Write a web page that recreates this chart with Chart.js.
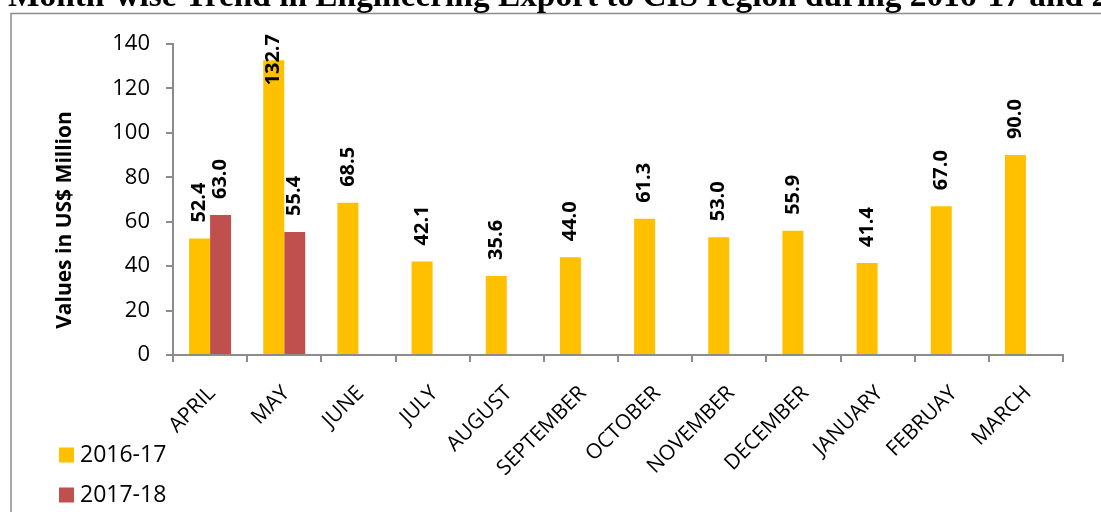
<!DOCTYPE html>
<html>
<head>
<meta charset="utf-8">
<script src="https://cdn.jsdelivr.net/npm/chart.js@4.4.1/dist/chart.umd.min.js"></script>
<style>
html,body{margin:0;padding:0;background:#fff;overflow:hidden;}
canvas{display:block;}
</style>
</head>
<body>
<canvas id="c" width="1101" height="512"></canvas>
<script>
const titleText = "Month-wise Trend in Engineering Export to CIS region during 2016-17 and 2017-18";
const yAxisTitle = "Values in US$ Million";
const months = ["APRIL","MAY","JUNE","JULY","AUGUST","SEPTEMBER","OCTOBER","NOVEMBER","DECEMBER","JANUARY","FEBRUAY","MARCH"];
const series1Name = "2016-17";
const series2Name = "2017-18";
const series1 = [52.4,132.7,68.5,42.1,35.6,44.0,61.3,53.0,55.9,41.4,67.0,90.0];
const series2 = [63.0,55.4,null,null,null,null,null,null,null,null,null,null];
const yMin = 0, yMax = 140, yStep = 20;

const decorPlugin = {
  id: 'decor',
  beforeDraw(chart) {
    const ctx = chart.ctx;
    ctx.save();
    ctx.fillStyle = '#fff';
    ctx.fillRect(0,0,chart.width,chart.height);
    // frame
    ctx.strokeStyle = '#8c8c8c';
    ctx.lineWidth = 1.5;
    ctx.beginPath();
    ctx.moveTo(11, chart.height);
    ctx.lineTo(11, 13.5);
    ctx.lineTo(chart.width, 13.5);
    ctx.stroke();
    // clipped title
    ctx.fillStyle = '#000';
    ctx.font = 'bold 27px "Liberation Serif"';
    ctx.textBaseline = 'alphabetic';
    ctx.textAlign = 'left';
    const partial = titleText.slice(0, 73);
    const w = ctx.measureText(partial).width;
    const size = 27 * 1100 / w;
    ctx.font = 'bold ' + size.toFixed(2) + 'px "Liberation Serif"';
    ctx.fillText(titleText, 8, 6);
    // y axis title
    ctx.font = 'bold 21px "Open Sans"';
    ctx.translate(65, 220);
    ctx.rotate(-Math.PI/2);
    ctx.textAlign = 'center';
    ctx.textBaseline = 'middle';
    ctx.fillText(yAxisTitle, 0, 0);
    ctx.restore();
  },
  afterDatasetsDraw(chart) {
    const ctx = chart.ctx;
    ctx.save();
    ctx.fillStyle = '#000';
    ctx.font = 'bold 20px "Open Sans"';
    chart.data.datasets.forEach((ds, di) => {
      const meta = chart.getDatasetMeta(di);
      meta.data.forEach((el, i) => {
        const v = ds.data[i];
        if (v === null || v === undefined) return;
        const txt = v.toFixed(1);
        const tw = ctx.measureText(txt).width;
        let start = el.y - 16;
        if (start - tw < 34) start = 34 + tw;
        ctx.save();
        ctx.translate(el.x, start);
        ctx.rotate(-Math.PI/2);
        ctx.textAlign = 'left';
        ctx.textBaseline = 'middle';
        ctx.fillText(txt, 0, 0);
        ctx.restore();
      });
    });
    // legend
    ctx.font = '23px "Open Sans"';
    ctx.textAlign = 'left';
    ctx.textBaseline = 'middle';
    chart.data.datasets.forEach((ds, di) => {
      const cy = 455 + di * 40;
      ctx.fillStyle = ds.backgroundColor;
      ctx.fillRect(59, cy - 7.5, 15, 15);
      ctx.fillStyle = '#000';
      ctx.fillText(ds.label, 80, cy);
    });
    ctx.restore();
  }
};

function build() {
  new Chart(document.getElementById('c'), {
    type: 'bar',
    data: {
      labels: months,
      datasets: [
        { label: series1Name, data: series1, backgroundColor: '#FFC000', categoryPercentage: 0.566, barPercentage: 1.0 },
        { label: series2Name, data: series2, backgroundColor: '#C0504D', categoryPercentage: 0.566, barPercentage: 1.0 }
      ]
    },
    options: {
      responsive: false,
      devicePixelRatio: 1,
      animation: false,
      layout: { padding: { top: 44, right: 38, left: 0, bottom: 0 } },
      plugins: { legend: { display: false }, tooltip: { enabled: false } },
      scales: {
        x: {
          grid: { display: true, drawOnChartArea: false, drawTicks: true, tickLength: 7, color: '#8c8c8c', lineWidth: 2, offset: true },
          border: { color: '#8c8c8c', width: 2 },
          ticks: { font: { family: 'Open Sans', size: 21 }, color: '#000', minRotation: 45, maxRotation: 45, autoSkip: false, padding: 19, labelOffset: 2 },
          afterFit(scale) { scale.height = 157; }
        },
        y: {
          min: yMin, max: yMax,
          grid: { display: true, drawOnChartArea: false, drawTicks: true, tickLength: 7, color: '#8c8c8c', lineWidth: 2 },
          border: { color: '#8c8c8c', width: 2 },
          ticks: { stepSize: yStep, font: { family: 'Open Sans', size: 22 }, color: '#000', padding: 16 },
          afterFit(scale) { scale.width = 173; }
        }
      }
    },
    plugins: [decorPlugin]
  });
}
Promise.all([
  document.fonts.load('21px "Open Sans"'),
  document.fonts.load('bold 21px "Open Sans"'),
  document.fonts.load('bold 27px "Liberation Serif"')
]).then(build, build);
</script>
</body>
</html>
